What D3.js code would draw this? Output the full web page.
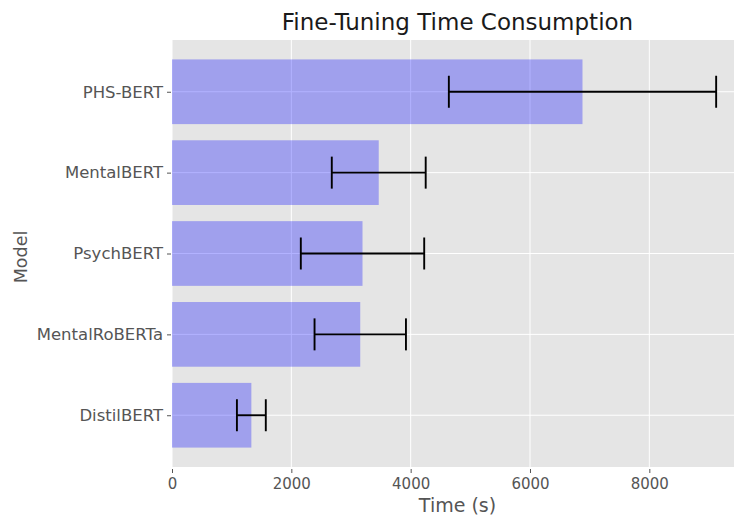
<!DOCTYPE html>
<html>
<head>
<meta charset="utf-8">
<script src="https://cdn.jsdelivr.net/npm/d3@7/dist/d3.min.js"></script>
<style>
  html, body { margin: 0; padding: 0; background: #fff; }
  svg { display: block; }
  svg text { font-family: "DejaVu Sans", sans-serif; }
</style>
</head>
<body>
<div id="chart"></div>
<script>
// Fine-tuning time per model: mean and spread (seconds)
const models = ["PHS-BERT", "MentalBERT", "PsychBERT", "MentalRoBERTa", "DistilBERT"];
const meanTime = [6880, 3465, 3193, 3155, 1330];
const stdTime = [2240, 787, 1034, 766, 242];
const xTicks = [0, 2000, 4000, 6000, 8000];

const W = 734, H = 520;
const margin = { top: 40, right: -9, bottom: 53, left: 172 };
const iw = W - margin.left - margin.right;
const ih = H - margin.top - margin.bottom;
const FONT = "DejaVu Sans, sans-serif";

const svg = d3.select("#chart").append("svg")
  .attr("width", W).attr("height", H);

const g = svg.append("g").attr("transform", `translate(${margin.left},${margin.top})`);

const x = d3.scaleLinear().domain([0, 9570]).range([0, iw]);

// categorical positions with matplotlib-like margins
const yIdx = d3.scaleLinear().domain([-0.64, 4.64]).range([0, ih]);
const barH = yIdx(0.4) - yIdx(-0.4);

// panel background
g.append("rect").attr("width", iw).attr("height", ih).attr("fill", "#e5e5e5");

// grid
g.selectAll(".vgrid").data(xTicks).join("line")
  .attr("x1", d => x(d)).attr("x2", d => x(d))
  .attr("y1", 0).attr("y2", ih)
  .attr("stroke", "#fff").attr("stroke-width", 1);
g.selectAll(".hgrid").data(models).join("line")
  .attr("x1", 0).attr("x2", iw)
  .attr("y1", (d, i) => yIdx(i)).attr("y2", (d, i) => yIdx(i))
  .attr("stroke", "#fff").attr("stroke-width", 1);

// bars
g.selectAll(".bar").data(models).join("rect")
  .attr("x", x(0))
  .attr("y", (d, i) => yIdx(i) - barH / 2)
  .attr("width", (d, i) => x(meanTime[i]) - x(0))
  .attr("height", barH)
  .attr("fill", "blue").attr("fill-opacity", 0.3);

// error bars
const cap = 16;
const eb = g.selectAll(".err").data(models).join("g");
eb.append("line")
  .attr("x1", (d, i) => x(meanTime[i] - stdTime[i]))
  .attr("x2", (d, i) => x(meanTime[i] + stdTime[i]))
  .attr("y1", (d, i) => yIdx(i)).attr("y2", (d, i) => yIdx(i))
  .attr("stroke", "#000").attr("stroke-width", 1.9);
[-1, 1].forEach(s => {
  eb.append("line")
    .attr("x1", (d, i) => x(meanTime[i] + s * stdTime[i]))
    .attr("x2", (d, i) => x(meanTime[i] + s * stdTime[i]))
    .attr("y1", (d, i) => yIdx(i) - cap).attr("y2", (d, i) => yIdx(i) + cap)
    .attr("stroke", "#000").attr("stroke-width", 1.9);
});

// x axis (ticks sit slightly below the panel)
const xAxis = g.append("g").attr("transform", `translate(0,${ih + 2})`)
  .call(d3.axisBottom(x).tickValues(xTicks).tickFormat(d3.format("d")).tickSize(4).tickPadding(5));
xAxis.attr("font-family", FONT);
xAxis.select(".domain").remove();
xAxis.selectAll("line").attr("stroke", "#555");
xAxis.selectAll("text").attr("fill", "#555").style("font-size", "15px");

// y axis
const yAxis = g.append("g").attr("transform", "translate(-1,0)")
  .call(d3.axisLeft(yIdx).tickValues(d3.range(models.length)).tickFormat(i => models[i]).tickSize(4).tickPadding(4));
yAxis.attr("font-family", FONT);
yAxis.select(".domain").remove();
yAxis.selectAll("line").attr("stroke", "#555");
yAxis.selectAll("text").attr("fill", "#555").style("font-size", "16.5px");

// labels
svg.append("text")
  .attr("x", margin.left + iw / 2).attr("y", 30)
  .attr("text-anchor", "middle").attr("fill", "#1a1a1a")
  .style("font-size", "23px").text("Fine-Tuning Time Consumption");

svg.append("text")
  .attr("x", margin.left + iw / 2).attr("y", 512)
  .attr("text-anchor", "middle").attr("fill", "#555")
  .style("font-size", "19px").text("Time (s)");

svg.append("text")
  .attr("transform", `translate(27,257) rotate(-90)`)
  .attr("text-anchor", "middle").attr("fill", "#555")
  .style("font-size", "17.5px").text("Model");
</script>
</body>
</html>
